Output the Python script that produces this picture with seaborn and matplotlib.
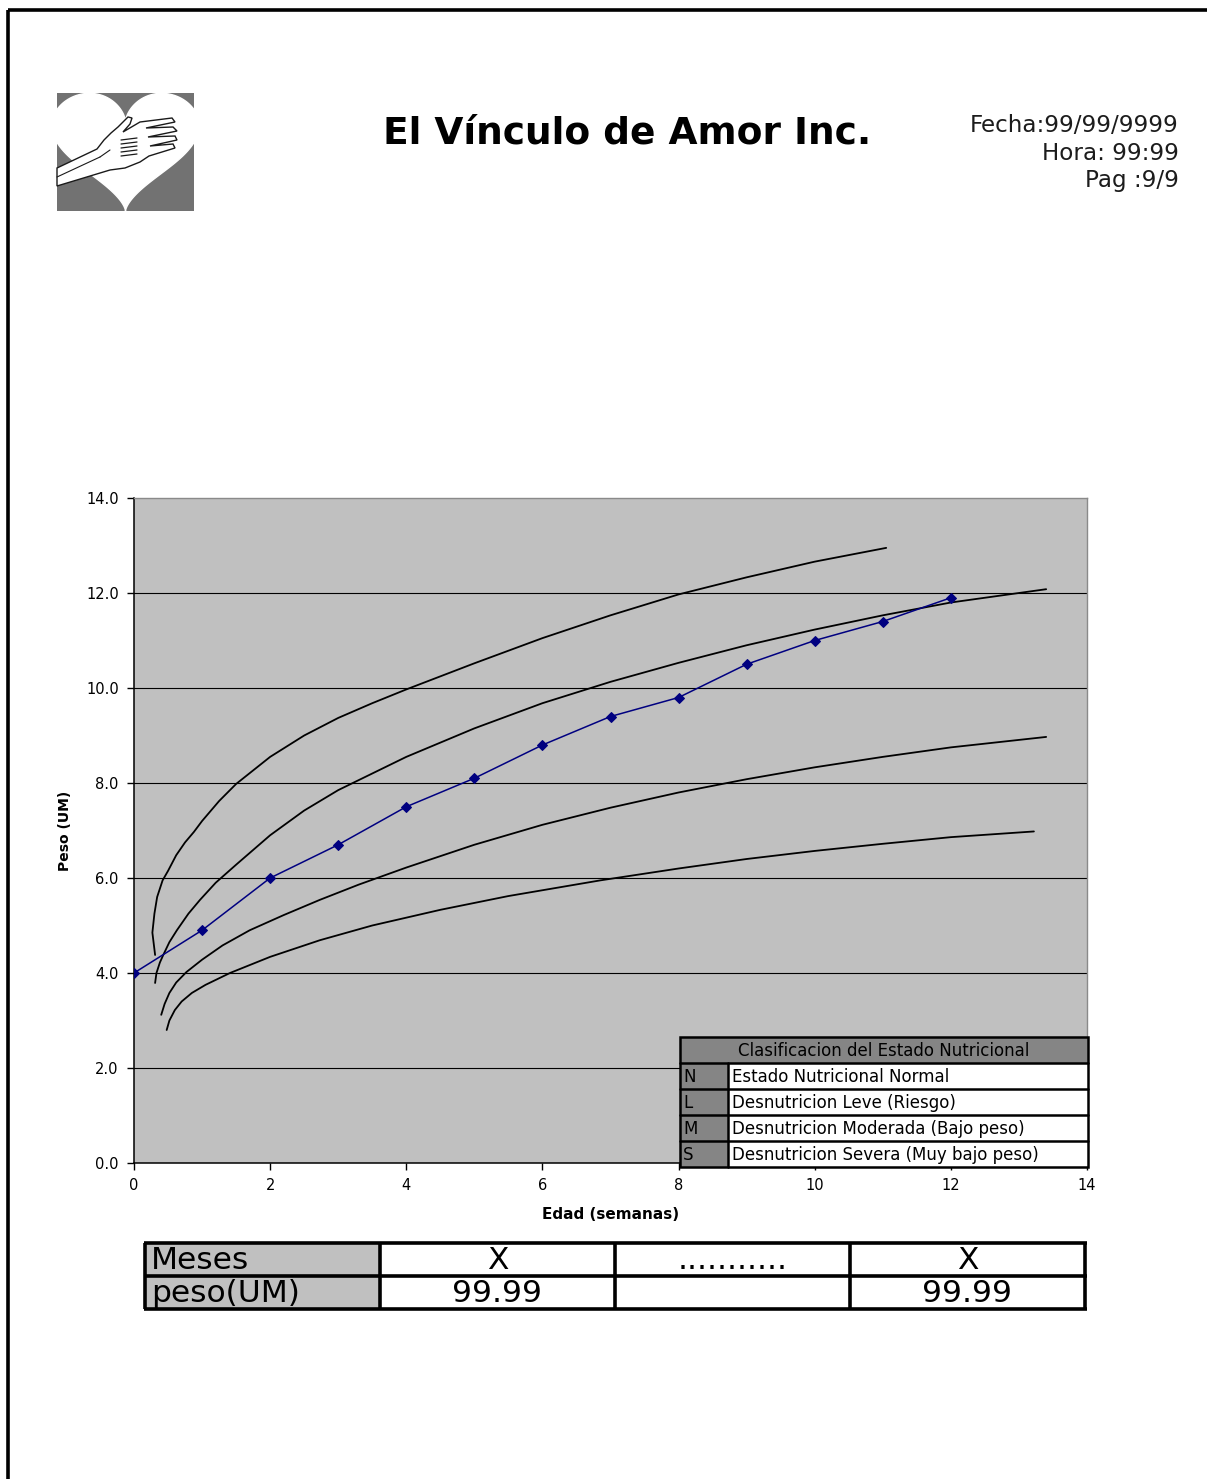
import numpy as np
import pandas as pd
import matplotlib
matplotlib.use("Agg")
import matplotlib.pyplot as plt
from matplotlib.patches import Rectangle, Polygon
import seaborn as sns

# ---- data -------------------------------------------------------------
edad_semanas = [0, 1, 2, 3, 4, 5, 6, 7, 8, 9, 10, 11, 12]
peso_um = [4.0, 4.9, 6.0, 6.7, 7.5, 8.1, 8.8, 9.4, 9.8, 10.5, 11.0, 11.4, 11.9]

# reference growth curves (upper to lower)
curva_1_x = [0.31, 0.27, 0.30, 0.34, 0.42, 0.50, 0.62, 0.75, 0.88, 1.0, 1.25, 1.5,
             2.0, 2.5, 3.0, 3.5, 4.0, 5.0, 6.0, 7.0, 8.0, 9.0, 10.0, 11.05]
curva_1_y = [4.38, 4.85, 5.25, 5.60, 5.95, 6.15, 6.48, 6.75, 6.97, 7.20, 7.62, 7.98,
             8.55, 9.00, 9.37, 9.68, 9.97, 10.52, 11.05, 11.53, 11.97, 12.33, 12.66, 12.95]

curva_2_x = [0.31, 0.33, 0.38, 0.43, 0.52, 0.63, 0.80, 0.97, 1.2, 1.5, 2.0, 2.5, 3.0,
             4.0, 5.0, 6.0, 7.0, 8.0, 9.0, 10.0, 11.0, 12.0, 13.4]
curva_2_y = [3.79, 4.00, 4.22, 4.38, 4.65, 4.90, 5.25, 5.54, 5.90, 6.28, 6.90, 7.42, 7.85,
             8.55, 9.15, 9.68, 10.13, 10.53, 10.90, 11.23, 11.53, 11.80, 12.08]

curva_3_x = [0.40, 0.45, 0.52, 0.62, 0.77, 1.0, 1.3, 1.7, 2.2, 2.73, 3.3, 4.0, 5.0,
             6.0, 7.0, 8.0, 9.0, 10.0, 11.0, 12.0, 13.4]
curva_3_y = [3.12, 3.35, 3.58, 3.80, 4.02, 4.28, 4.58, 4.90, 5.22, 5.54, 5.86, 6.22, 6.70,
             7.12, 7.48, 7.80, 8.08, 8.33, 8.55, 8.75, 8.97]

curva_4_x = [0.48, 0.52, 0.60, 0.70, 0.85, 1.05, 1.41, 2.0, 2.73, 3.5, 4.5, 5.5, 6.85,
             8.0, 9.0, 10.0, 11.0, 12.0, 13.22]
curva_4_y = [2.80, 3.00, 3.22, 3.40, 3.58, 3.75, 4.00, 4.34, 4.69, 5.00, 5.33, 5.62, 5.95,
             6.20, 6.40, 6.57, 6.72, 6.86, 6.98]

y_ticks = [0, 2, 4, 6, 8, 10, 12, 14]
x_ticks = [0, 2, 4, 6, 8, 10, 12, 14]

leyenda_titulo = "Clasificacion del Estado Nutricional"
leyenda_codigos = ["N", "L", "M", "S"]
leyenda_textos = ["Estado Nutricional Normal", "Desnutricion Leve (Riesgo)",
                  "Desnutricion Moderada (Bajo peso)", "Desnutricion Severa (Muy bajo peso)"]

tabla_filas = ["Meses", "peso(UM)"]
tabla_meses = ["X", "...........", "X"]
tabla_pesos = ["99.99", "", "99.99"]

titulo = "El Vínculo de Amor Inc."
encabezado = ["Fecha:99/99/9999", "Hora: 99:99", "Pag :9/9"]

# ---- style ------------------------------------------------------------
sns.set_theme(style="white")
plt.rcParams["font.family"] = ["DejaVu Sans"]

W, H = 1207, 1479
fig = plt.figure(figsize=(W / 100, H / 100), dpi=100)
fig.patch.set_facecolor("white")

# main plotting area
ax = fig.add_axes([134 / W, 1 - 1163 / H, (1087 - 134) / W, (1163 - 498) / H])
ax.set_facecolor("#C0C0C0")

for cx, cy in [(curva_1_x, curva_1_y), (curva_2_x, curva_2_y),
               (curva_3_x, curva_3_y), (curva_4_x, curva_4_y)]:
    sns.lineplot(x=cx, y=cy, sort=False, color="black", linewidth=1.3, ax=ax,
                 estimator=None, zorder=3)

df = pd.DataFrame({"Edad": edad_semanas, "Peso": peso_um})
sns.lineplot(data=df, x="Edad", y="Peso", color="#000080", linewidth=1.1,
             marker="D", markersize=5.5, markeredgecolor="#000080", ax=ax, zorder=4)

ax.set_xlim(0, 14)
ax.set_ylim(0, 14)
ax.set_xticks(x_ticks)
ax.set_yticks(y_ticks)
ax.set_xticklabels([str(t) for t in x_ticks])
ax.set_yticklabels([f"{t:.1f}" for t in y_ticks])
for t in y_ticks[1:-1]:
    ax.axhline(t, color="black", linewidth=0.8, zorder=1)

ax.tick_params(axis="both", which="major", direction="out", length=5, width=1,
               color="black", labelsize=10.5, labelcolor="black",
               bottom=True, left=True, pad=6)
for side in ["left", "bottom"]:
    ax.spines[side].set_color("black")
    ax.spines[side].set_linewidth(1.1)
for side in ["top", "right"]:
    ax.spines[side].set_color("#8a8a8a")
    ax.spines[side].set_linewidth(1.0)

ax.set_xlabel("Edad (semanas)", fontsize=11, fontweight="bold", color="black")
ax.set_ylabel("Peso (UM)", fontsize=10, fontweight="bold", color="black")
ax.xaxis.set_label_coords(0.5, -(1207 - 1163) / (1163 - 498))
ax.yaxis.set_label_coords((72 - 134) / (1087 - 134), 0.5)

# ---- overlay in page pixel coordinates --------------------------------
ov = fig.add_axes([0, 0, 1, 1], zorder=10)
ov.set_xlim(0, W)
ov.set_ylim(H, 0)
ov.axis("off")
ov.patch.set_alpha(0)

# page frame
ov.plot([8, W], [10, 10], color="black", linewidth=2.6, solid_capstyle="butt")
ov.plot([8, 8], [10, H], color="black", linewidth=2.6, solid_capstyle="butt")

# logo: heart with an adult hand holding a small one
ov.add_patch(Rectangle((57, 93), 137, 118, facecolor="#727272", edgecolor="none"))
t = np.linspace(0, 2 * np.pi, 400)
hx = 16 * np.sin(t) ** 3
hy = 13 * np.cos(t) - 5 * np.cos(2 * t) - 2 * np.cos(3 * t) - np.cos(4 * t)
heart_x = np.clip(125.5 + hx * 4.6, 57, 194)
heart_y = np.clip(91 + (12.5 - hy) * 120 / 29.5, 93, 211)
ov.fill(heart_x, heart_y, color="white", zorder=11)
hand = [(57, 168), (97, 149), (104, 140), (111, 133), (118, 127), (128, 117), (132, 118),
        (130, 124), (123, 132), (140, 122), (172, 118), (175, 122), (146, 128),
        (173, 127), (177, 131), (148, 137), (175, 136), (177, 140), (150, 146),
        (173, 144), (175, 148), (149, 156), (140, 162), (125, 168), (110, 170), (57, 186)]
ov.add_patch(Polygon(hand, closed=True, facecolor="white", edgecolor="#1a1a1a",
                     linewidth=1.0, zorder=12))
ov.plot([57, 100], [177, 157], color="#1a1a1a", linewidth=0.8, zorder=13)
ov.plot([100, 110], [157, 150], color="#1a1a1a", linewidth=0.8, zorder=13)
for k in range(5):
    ov.plot([121, 137], [140 + 4 * k, 138 + 4 * k], color="#1a1a1a", linewidth=0.9,
            zorder=13)

# header
ov.text(627, 134, titulo, fontsize=27, fontweight="bold", ha="center", va="center",
        color="black")
for txt, yy in zip(encabezado, [126, 153, 180]):
    ov.text(1179, yy, txt, fontsize=16.6, ha="right", va="center", color="#1c1c1c")

# legend box
lx0, lx1, lcol = 680, 1088, 728
ly = [1037, 1063, 1089, 1115, 1141, 1167]
ov.add_patch(Rectangle((lx0, ly[0]), lx1 - lx0, ly[1] - ly[0], facecolor="#858585",
                       edgecolor="none"))
ov.add_patch(Rectangle((lx0, ly[1]), lcol - lx0, ly[-1] - ly[1], facecolor="#858585",
                       edgecolor="none"))
ov.add_patch(Rectangle((lcol, ly[1]), lx1 - lcol, ly[-1] - ly[1], facecolor="white",
                       edgecolor="none"))
ov.add_patch(Rectangle((lx0, ly[0]), lx1 - lx0, ly[-1] - ly[0], facecolor="none",
                       edgecolor="black", linewidth=1.8))
for yy in ly[1:-1]:
    ov.plot([lx0, lx1], [yy, yy], color="black", linewidth=1.8)
ov.plot([lcol, lcol], [ly[1], ly[-1]], color="black", linewidth=1.8)
ov.text((lx0 + lx1) / 2, (ly[0] + ly[1]) / 2 + 1, leyenda_titulo, fontsize=12,
        ha="center", va="center", color="black")
for i, (cod, txt) in enumerate(zip(leyenda_codigos, leyenda_textos)):
    yc = (ly[i + 1] + ly[i + 2]) / 2 + 1
    ov.text(lx0 + 3, yc, cod, fontsize=12, ha="left", va="center", color="black")
    ov.text(lcol + 4, yc, txt, fontsize=12, ha="left", va="center", color="black")

# data summary table
tx = [145, 380, 615, 850, 1085]
ty = [1243, 1276, 1309]
ov.add_patch(Rectangle((tx[0], ty[0]), tx[1] - tx[0], ty[2] - ty[0], facecolor="#C0C0C0",
                       edgecolor="none"))
ov.add_patch(Rectangle((tx[1], ty[0]), tx[4] - tx[1], ty[2] - ty[0], facecolor="white",
                       edgecolor="none"))
for yy in ty:
    ov.plot([tx[0] - 1.5, tx[-1] + 1.5], [yy, yy], color="black", linewidth=2.6,
            solid_capstyle="butt")
for xx in tx:
    ov.plot([xx, xx], [ty[0], ty[-1]], color="black", linewidth=2.6, solid_capstyle="butt")
for r, lab in enumerate(tabla_filas):
    ov.text(tx[0] + 6, (ty[r] + ty[r + 1]) / 2 + 1, lab, fontsize=22.5, ha="left",
            va="center", color="black")
for c in range(3):
    xc = (tx[c + 1] + tx[c + 2]) / 2
    ov.text(xc, (ty[0] + ty[1]) / 2 + 1, tabla_meses[c], fontsize=22.5, ha="center",
            va="center", color="black")
    ov.text(xc, (ty[1] + ty[2]) / 2 + 1, tabla_pesos[c], fontsize=22.5, ha="center",
            va="center", color="black")

fig.savefig("out.png", dpi=100, facecolor="white")
